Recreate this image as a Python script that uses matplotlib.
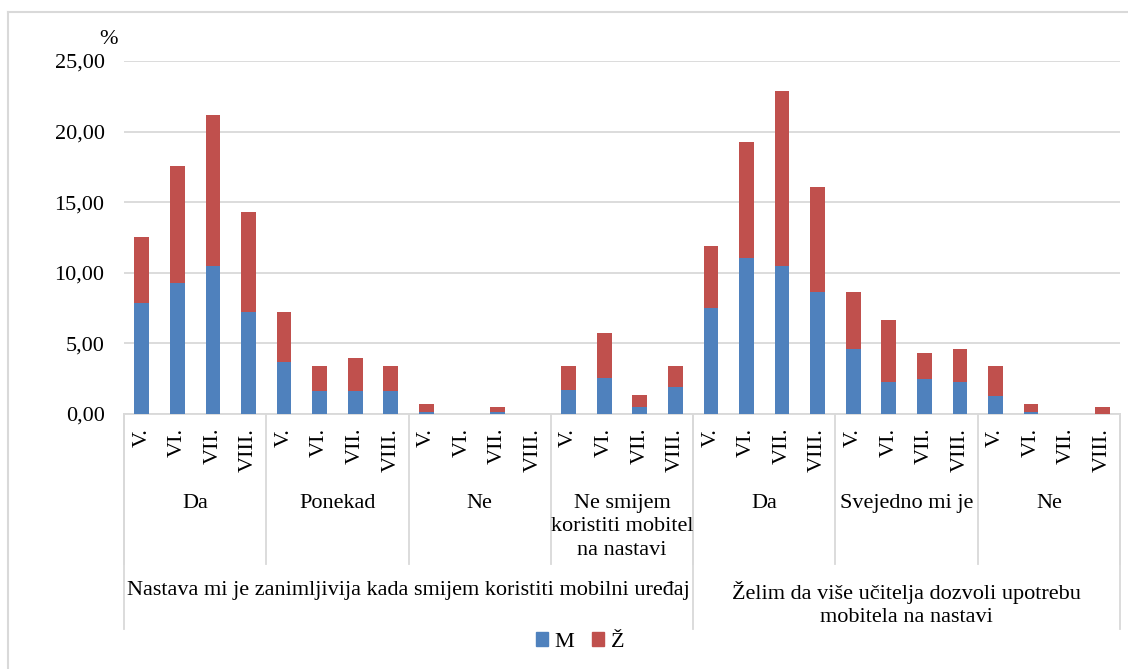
import matplotlib
matplotlib.use("Agg")
import matplotlib.pyplot as plt
from matplotlib.lines import Line2D
from matplotlib.patches import Patch
import numpy as np

grades = ["V.", "VI.", "VII.", "VIII."]
answers = ["Da", "Ponekad", "Ne", "Ne smijem\nkoristiti mobitel\nna nastavi",
           "Da", "Svejedno mi je", "Ne"]
questions = ["Nastava mi je zanimljivija kada smijem koristiti mobilni uređaj",
             "Želim da više učitelja dozvoli upotrebu\nmobitela na nastavi"]
answers_per_question = [4, 3]

male = [7.83, 9.26, 10.50, 7.25,
        3.66, 1.65, 1.65, 1.65,
        0.14, 0.00, 0.14, 0.00,
        1.67, 2.52, 0.50, 1.91,
        7.50, 11.08, 10.50, 8.66,
        4.58, 2.24, 2.50, 2.24,
        1.30, 0.12, 0.00, 0.00]
female = [4.70, 8.28, 10.65, 7.03,
          3.59, 1.75, 2.34, 1.75,
          0.59, 0.00, 0.36, 0.00,
          1.73, 3.24, 0.82, 1.49,
          4.43, 8.19, 12.38, 7.45,
          4.08, 4.41, 1.82, 2.36,
          2.10, 0.61, 0.00, 0.47]
series_names = ["M", "Ž"]

BLUE = "#4F81BD"
RED = "#C0504D"
GRID = "#D9D9D9"
FONT = "Liberation Serif"
FS = 16

plt.rcParams["font.family"] = [FONT, "DejaVu Serif"]

W, H = 1128, 669
fig = plt.figure(figsize=(W / 100, H / 100), dpi=100)
ax_l, ax_r, ax_b, ax_t = 124, 1120, 414, 61
ax = fig.add_axes([ax_l / W, 1 - ax_b / H, (ax_r - ax_l) / W, (ax_b - ax_t) / H])

n = len(male)
x = np.arange(n)
ax.bar(x, male, width=0.41, color=BLUE, zorder=3)
ax.bar(x, female, width=0.41, bottom=male, color=RED, zorder=3)

ax.set_xlim(-0.5, n - 0.5)
ax.set_ylim(0, 25)
ax.set_yticks(np.arange(0, 26, 5))
ax.set_yticklabels([f"{v:.2f}".replace(".", ",") for v in np.arange(0, 26, 5)], fontsize=FS)
ax.yaxis.grid(True, color=GRID, linewidth=1.3, zorder=0)
ax.tick_params(axis="y", length=0, pad=14)
ax.set_xticks(x)
ax.set_xticklabels(grades * (n // 4), rotation=90, va="top", ha="center", fontsize=FS)
ax.tick_params(axis="x", length=0, pad=10)
for s in ["left", "right", "top"]:
    ax.spines[s].set_visible(False)
ax.spines["bottom"].set_color(GRID)
ax.spines["bottom"].set_linewidth(1.3)

ax_h = ax_b - ax_t
def ay(py):
    return (ax_b - py) / ax_h

trans = ax.get_xaxis_transform()
# level-1 separators
for i in range(len(answers) + 1):
    xb = -0.5 + 4 * i
    ax.add_line(Line2D([xb, xb], [0, ay(564)], transform=trans, color=GRID,
                       lw=1.3, clip_on=False))
# level-2 separators
bounds = [0]
for k in answers_per_question:
    bounds.append(bounds[-1] + k)
for b in bounds:
    xb = -0.5 + 4 * b
    ax.add_line(Line2D([xb, xb], [0, ay(629)], transform=trans, color=GRID,
                       lw=1.3, clip_on=False))

for i, a in enumerate(answers):
    ax.text(4 * i + 1.5, ay(494), a, transform=trans, ha="center", va="top",
            fontsize=FS, linespacing=1.31, multialignment="center")
for j, q in enumerate(questions):
    cx = (-0.5 + 4 * bounds[j] + -0.5 + 4 * bounds[j + 1]) / 2
    ax.text(cx, ay(581), q, transform=trans, ha="center", va="top",
            fontsize=FS, linespacing=1.31, multialignment="center")

fig.text(108 / W, 1 - 39 / H, "%", ha="center", va="center", fontsize=FS)

handles = [Patch(color=BLUE), Patch(color=RED)]
fig.legend(handles, series_names, loc="center", bbox_to_anchor=(580 / W, 1 - 642 / H),
           ncol=2, frameon=False, fontsize=FS, handlelength=0.55, handleheight=0.55,
           handletextpad=0.3, columnspacing=0.8)

# outer chart border
fig.add_artist(Line2D([8 / W, 8 / W], [1 - 12 / H, 0], transform=fig.transFigure,
                      color=GRID, lw=1.5))
fig.add_artist(Line2D([8 / W, 1], [1 - 12 / H, 1 - 12 / H], transform=fig.transFigure,
                      color=GRID, lw=1.5))

fig.savefig("out.png", dpi=100)
